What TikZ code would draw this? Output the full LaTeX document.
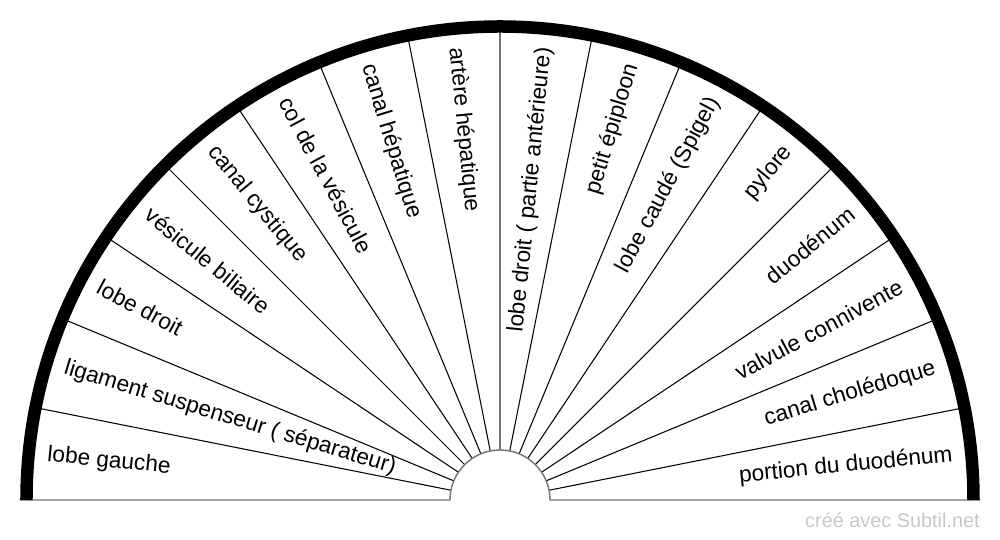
\documentclass[tikz,border=0pt]{standalone}
\usepackage{fontspec}
\setmainfont{Liberation Sans}
\tikzset{
  secteur/.style={line width=0.6pt},
  axe/.style={draw=black!55,line width=0.8pt},
  etiquette/.style={inner sep=0pt,font=\fontsize{12.9}{15}\selectfont}
}
\begin{document}
\begin{tikzpicture}
\useasboundingbox (-10,-0.8) rectangle (10,10);
% rayons des secteurs
\foreach \k in {1,...,7,9,10,...,15}
  \draw[secteur] (180-\k*11.25:1) -- (180-\k*11.25:9.4);
\draw[axe] (90:1) -- (90:9.4);
\draw[axe] (-9.6,0) -- (-1,0) arc (180:0:1) -- (9.6,0);
\draw[line width=0.25cm] (-9.47,0) arc (180:0:9.47);
% moitie gauche
\foreach \k/\t in {0/{lobe gauche},1/{ligament suspenseur ( séparateur)},2/{lobe droit},
    3/{vésicule biliaire},4/{canal cystique},5/{col de la vésicule},
    6/{canal hépatique},7/{artère hépatique}}
  \node[etiquette,anchor=west,rotate=-(\k+0.5)*11.25] (gauche\k) at (180-\k*11.25-5.625:9.1) {\t};
% moitie droite
\foreach \k/\t in {0/{portion du duodénum},1/{canal cholédoque},2/{valvule connivente},
    3/{duodénum},4/{pylore},5/{lobe caudé (Spigel)},6/{petit épiploon},
    7/{lobe droit ( partie antérieure)}}
  \node[etiquette,anchor=east,rotate=(\k+0.5)*11.25] (droite\k) at (\k*11.25+5.625:9.1) {\t};
\node[anchor=east,inner sep=0pt,text=black!22,font=\fontsize{11.3}{13}\selectfont] (credit) at (9.6,-0.4) {créé avec Subtil.net};
\end{tikzpicture}
\end{document}
